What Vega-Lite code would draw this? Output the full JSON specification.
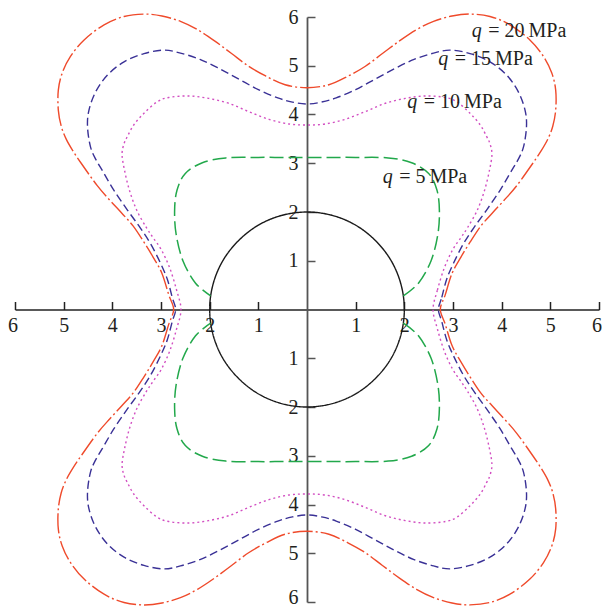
{
  "$schema": "https://vega.github.io/schema/vega-lite/v6.json",
  "width": 584,
  "height": 585,
  "autosize": {"type": "none"},
  "padding": {"left": 15, "top": 17, "right": 3, "bottom": 5},
  "background": "white",
  "config": {"view": {"stroke": null}, "font": "Liberation Serif"},
  "datasets": {
    "closed": [
      {"c":"circle","x":2,"y":0},{"c":"circle","x":1.93,"y":0.52},{"c":"circle","x":1.73,"y":1.0},{"c":"circle","x":1.41,"y":1.41},{"c":"circle","x":1.0,"y":1.73},{"c":"circle","x":0.52,"y":1.93},
      {"c":"circle","x":0,"y":2},{"c":"circle","x":-0.52,"y":1.93},{"c":"circle","x":-1.0,"y":1.73},{"c":"circle","x":-1.41,"y":1.41},{"c":"circle","x":-1.73,"y":1.0},{"c":"circle","x":-1.93,"y":0.52},
      {"c":"circle","x":-2,"y":0},{"c":"circle","x":-1.93,"y":-0.52},{"c":"circle","x":-1.73,"y":-1.0},{"c":"circle","x":-1.41,"y":-1.41},{"c":"circle","x":-1.0,"y":-1.73},{"c":"circle","x":-0.52,"y":-1.93},
      {"c":"circle","x":0,"y":-2},{"c":"circle","x":0.52,"y":-1.93},{"c":"circle","x":1.0,"y":-1.73},{"c":"circle","x":1.41,"y":-1.41},{"c":"circle","x":1.73,"y":-1.0},{"c":"circle","x":1.93,"y":-0.52},

      {"c":"q20","x":2.74,"y":0},{"c":"q20","x":2.84,"y":0.30},{"c":"q20","x":2.98,"y":0.74},{"c":"q20","x":3.16,"y":1.07},{"c":"q20","x":3.35,"y":1.38},{"c":"q20","x":3.57,"y":1.71},
      {"c":"q20","x":3.80,"y":1.97},{"c":"q20","x":4.05,"y":2.24},{"c":"q20","x":4.31,"y":2.54},{"c":"q20","x":4.64,"y":3.00},{"c":"q20","x":4.82,"y":3.27},{"c":"q20","x":4.95,"y":3.50},
      {"c":"q20","x":5.05,"y":3.76},{"c":"q20","x":5.11,"y":4.09},{"c":"q20","x":5.11,"y":4.50},{"c":"q20","x":5.03,"y":4.85},{"c":"q20","x":4.86,"y":5.19},{"c":"q20","x":4.58,"y":5.53},
      {"c":"q20","x":4.17,"y":5.84},{"c":"q20","x":3.76,"y":6.01},{"c":"q20","x":3.35,"y":6.06},{"c":"q20","x":2.98,"y":6.02},{"c":"q20","x":2.60,"y":5.91},{"c":"q20","x":2.25,"y":5.74},
      {"c":"q20","x":1.90,"y":5.51},{"c":"q20","x":1.55,"y":5.25},{"c":"q20","x":1.20,"y":4.99},{"c":"q20","x":0.85,"y":4.79},{"c":"q20","x":0.45,"y":4.61},{"c":"q20","x":0,"y":4.55},
      {"c":"q20","x":-0.45,"y":4.61},{"c":"q20","x":-0.85,"y":4.79},{"c":"q20","x":-1.20,"y":4.99},{"c":"q20","x":-1.55,"y":5.25},{"c":"q20","x":-1.90,"y":5.51},{"c":"q20","x":-2.25,"y":5.74},
      {"c":"q20","x":-2.60,"y":5.91},{"c":"q20","x":-2.98,"y":6.02},{"c":"q20","x":-3.35,"y":6.06},{"c":"q20","x":-3.76,"y":6.01},{"c":"q20","x":-4.17,"y":5.84},{"c":"q20","x":-4.58,"y":5.53},
      {"c":"q20","x":-4.86,"y":5.19},{"c":"q20","x":-5.03,"y":4.85},{"c":"q20","x":-5.11,"y":4.50},{"c":"q20","x":-5.11,"y":4.09},{"c":"q20","x":-5.05,"y":3.76},{"c":"q20","x":-4.95,"y":3.50},
      {"c":"q20","x":-4.82,"y":3.27},{"c":"q20","x":-4.64,"y":3.00},{"c":"q20","x":-4.31,"y":2.54},{"c":"q20","x":-4.05,"y":2.24},{"c":"q20","x":-3.80,"y":1.97},{"c":"q20","x":-3.57,"y":1.71},
      {"c":"q20","x":-3.35,"y":1.38},{"c":"q20","x":-3.16,"y":1.07},{"c":"q20","x":-2.98,"y":0.74},{"c":"q20","x":-2.84,"y":0.30},{"c":"q20","x":-2.74,"y":0},
      {"c":"q20","x":-2.84,"y":-0.30},{"c":"q20","x":-2.98,"y":-0.74},{"c":"q20","x":-3.16,"y":-1.07},{"c":"q20","x":-3.35,"y":-1.38},{"c":"q20","x":-3.57,"y":-1.71},{"c":"q20","x":-3.80,"y":-1.97},
      {"c":"q20","x":-4.05,"y":-2.24},{"c":"q20","x":-4.31,"y":-2.54},{"c":"q20","x":-4.64,"y":-3.00},{"c":"q20","x":-4.82,"y":-3.27},{"c":"q20","x":-4.95,"y":-3.50},{"c":"q20","x":-5.05,"y":-3.76},
      {"c":"q20","x":-5.11,"y":-4.09},{"c":"q20","x":-5.11,"y":-4.50},{"c":"q20","x":-5.03,"y":-4.85},{"c":"q20","x":-4.86,"y":-5.19},{"c":"q20","x":-4.58,"y":-5.53},{"c":"q20","x":-4.17,"y":-5.84},
      {"c":"q20","x":-3.76,"y":-6.01},{"c":"q20","x":-3.35,"y":-6.06},{"c":"q20","x":-2.98,"y":-6.02},{"c":"q20","x":-2.60,"y":-5.91},{"c":"q20","x":-2.25,"y":-5.74},{"c":"q20","x":-1.90,"y":-5.51},
      {"c":"q20","x":-1.55,"y":-5.25},{"c":"q20","x":-1.20,"y":-4.99},{"c":"q20","x":-0.85,"y":-4.79},{"c":"q20","x":-0.45,"y":-4.61},{"c":"q20","x":0,"y":-4.55},
      {"c":"q20","x":0.45,"y":-4.61},{"c":"q20","x":0.85,"y":-4.79},{"c":"q20","x":1.20,"y":-4.99},{"c":"q20","x":1.55,"y":-5.25},{"c":"q20","x":1.90,"y":-5.51},{"c":"q20","x":2.25,"y":-5.74},
      {"c":"q20","x":2.60,"y":-5.91},{"c":"q20","x":2.98,"y":-6.02},{"c":"q20","x":3.35,"y":-6.06},{"c":"q20","x":3.76,"y":-6.01},{"c":"q20","x":4.17,"y":-5.84},{"c":"q20","x":4.58,"y":-5.53},
      {"c":"q20","x":4.86,"y":-5.19},{"c":"q20","x":5.03,"y":-4.85},{"c":"q20","x":5.11,"y":-4.50},{"c":"q20","x":5.11,"y":-4.09},{"c":"q20","x":5.05,"y":-3.76},{"c":"q20","x":4.95,"y":-3.50},
      {"c":"q20","x":4.82,"y":-3.27},{"c":"q20","x":4.64,"y":-3.00},{"c":"q20","x":4.31,"y":-2.54},{"c":"q20","x":4.05,"y":-2.24},{"c":"q20","x":3.80,"y":-1.97},{"c":"q20","x":3.57,"y":-1.71},
      {"c":"q20","x":3.35,"y":-1.38},{"c":"q20","x":3.16,"y":-1.07},{"c":"q20","x":2.98,"y":-0.74},{"c":"q20","x":2.84,"y":-0.30},

      {"c":"q15","x":2.70,"y":0},{"c":"q15","x":2.77,"y":0.25},{"c":"q15","x":2.87,"y":0.62},{"c":"q15","x":3.01,"y":0.95},{"c":"q15","x":3.21,"y":1.34},{"c":"q15","x":3.43,"y":1.68},
      {"c":"q15","x":3.69,"y":2.04},{"c":"q15","x":3.97,"y":2.45},{"c":"q15","x":4.21,"y":2.86},{"c":"q15","x":4.34,"y":3.08},{"c":"q15","x":4.45,"y":3.34},{"c":"q15","x":4.51,"y":3.75},
      {"c":"q15","x":4.48,"y":4.09},{"c":"q15","x":4.34,"y":4.47},{"c":"q15","x":4.10,"y":4.81},{"c":"q15","x":3.76,"y":5.08},{"c":"q15","x":3.35,"y":5.25},{"c":"q15","x":2.94,"y":5.32},
      {"c":"q15","x":2.60,"y":5.26},{"c":"q15","x":2.20,"y":5.13},{"c":"q15","x":1.80,"y":4.94},{"c":"q15","x":1.40,"y":4.725},{"c":"q15","x":1.00,"y":4.51},{"c":"q15","x":0.60,"y":4.34},
      {"c":"q15","x":0.30,"y":4.255},{"c":"q15","x":0,"y":4.215},
      {"c":"q15","x":-0.30,"y":4.255},{"c":"q15","x":-0.60,"y":4.34},{"c":"q15","x":-1.00,"y":4.51},{"c":"q15","x":-1.40,"y":4.725},{"c":"q15","x":-1.80,"y":4.94},{"c":"q15","x":-2.20,"y":5.13},
      {"c":"q15","x":-2.60,"y":5.26},{"c":"q15","x":-2.94,"y":5.32},{"c":"q15","x":-3.35,"y":5.25},{"c":"q15","x":-3.76,"y":5.08},{"c":"q15","x":-4.10,"y":4.81},{"c":"q15","x":-4.34,"y":4.47},
      {"c":"q15","x":-4.48,"y":4.09},{"c":"q15","x":-4.51,"y":3.75},{"c":"q15","x":-4.45,"y":3.34},{"c":"q15","x":-4.34,"y":3.08},{"c":"q15","x":-4.21,"y":2.86},{"c":"q15","x":-3.97,"y":2.45},
      {"c":"q15","x":-3.69,"y":2.04},{"c":"q15","x":-3.43,"y":1.68},{"c":"q15","x":-3.21,"y":1.34},{"c":"q15","x":-3.01,"y":0.95},{"c":"q15","x":-2.87,"y":0.62},{"c":"q15","x":-2.77,"y":0.25},
      {"c":"q15","x":-2.70,"y":0},
      {"c":"q15","x":-2.77,"y":-0.25},{"c":"q15","x":-2.87,"y":-0.62},{"c":"q15","x":-3.01,"y":-0.95},{"c":"q15","x":-3.21,"y":-1.34},{"c":"q15","x":-3.43,"y":-1.68},{"c":"q15","x":-3.69,"y":-2.04},
      {"c":"q15","x":-3.97,"y":-2.45},{"c":"q15","x":-4.21,"y":-2.86},{"c":"q15","x":-4.34,"y":-3.08},{"c":"q15","x":-4.45,"y":-3.34},{"c":"q15","x":-4.51,"y":-3.75},{"c":"q15","x":-4.48,"y":-4.09},
      {"c":"q15","x":-4.34,"y":-4.47},{"c":"q15","x":-4.10,"y":-4.81},{"c":"q15","x":-3.76,"y":-5.08},{"c":"q15","x":-3.35,"y":-5.25},{"c":"q15","x":-2.94,"y":-5.32},{"c":"q15","x":-2.60,"y":-5.26},
      {"c":"q15","x":-2.20,"y":-5.13},{"c":"q15","x":-1.80,"y":-4.94},{"c":"q15","x":-1.40,"y":-4.725},{"c":"q15","x":-1.00,"y":-4.51},{"c":"q15","x":-0.60,"y":-4.34},{"c":"q15","x":-0.30,"y":-4.255},
      {"c":"q15","x":0,"y":-4.215},
      {"c":"q15","x":0.30,"y":-4.255},{"c":"q15","x":0.60,"y":-4.34},{"c":"q15","x":1.00,"y":-4.51},{"c":"q15","x":1.40,"y":-4.725},{"c":"q15","x":1.80,"y":-4.94},{"c":"q15","x":2.20,"y":-5.13},
      {"c":"q15","x":2.60,"y":-5.26},{"c":"q15","x":2.94,"y":-5.32},{"c":"q15","x":3.35,"y":-5.25},{"c":"q15","x":3.76,"y":-5.08},{"c":"q15","x":4.10,"y":-4.81},{"c":"q15","x":4.34,"y":-4.47},
      {"c":"q15","x":4.48,"y":-4.09},{"c":"q15","x":4.51,"y":-3.75},{"c":"q15","x":4.45,"y":-3.34},{"c":"q15","x":4.34,"y":-3.08},{"c":"q15","x":4.21,"y":-2.86},{"c":"q15","x":3.97,"y":-2.45},
      {"c":"q15","x":3.69,"y":-2.04},{"c":"q15","x":3.43,"y":-1.68},{"c":"q15","x":3.21,"y":-1.34},{"c":"q15","x":3.01,"y":-0.95},{"c":"q15","x":2.87,"y":-0.62},{"c":"q15","x":2.77,"y":-0.25},

      {"c":"q10","x":2.59,"y":0},{"c":"q10","x":2.68,"y":0.40},{"c":"q10","x":2.82,"y":0.85},{"c":"q10","x":2.99,"y":1.22},{"c":"q10","x":3.16,"y":1.47},{"c":"q10","x":3.30,"y":1.68},
      {"c":"q10","x":3.50,"y":2.04},{"c":"q10","x":3.65,"y":2.45},{"c":"q10","x":3.75,"y":2.86},{"c":"q10","x":3.80,"y":3.18},{"c":"q10","x":3.76,"y":3.40},{"c":"q10","x":3.69,"y":3.55},
      {"c":"q10","x":3.56,"y":3.785},{"c":"q10","x":3.35,"y":4.025},{"c":"q10","x":3.08,"y":4.26},{"c":"q10","x":2.84,"y":4.35},{"c":"q10","x":2.43,"y":4.38},{"c":"q10","x":2.02,"y":4.33},
      {"c":"q10","x":1.61,"y":4.23},{"c":"q10","x":1.20,"y":4.06},{"c":"q10","x":0.78,"y":3.90},{"c":"q10","x":0.37,"y":3.805},{"c":"q10","x":0,"y":3.785},
      {"c":"q10","x":-0.37,"y":3.805},{"c":"q10","x":-0.78,"y":3.90},{"c":"q10","x":-1.20,"y":4.06},{"c":"q10","x":-1.61,"y":4.23},{"c":"q10","x":-2.02,"y":4.33},{"c":"q10","x":-2.43,"y":4.38},
      {"c":"q10","x":-2.84,"y":4.35},{"c":"q10","x":-3.08,"y":4.26},{"c":"q10","x":-3.35,"y":4.025},{"c":"q10","x":-3.56,"y":3.785},{"c":"q10","x":-3.69,"y":3.55},{"c":"q10","x":-3.76,"y":3.40},
      {"c":"q10","x":-3.80,"y":3.18},{"c":"q10","x":-3.75,"y":2.86},{"c":"q10","x":-3.65,"y":2.45},{"c":"q10","x":-3.50,"y":2.04},{"c":"q10","x":-3.30,"y":1.68},{"c":"q10","x":-3.16,"y":1.47},
      {"c":"q10","x":-2.99,"y":1.22},{"c":"q10","x":-2.82,"y":0.85},{"c":"q10","x":-2.68,"y":0.40},{"c":"q10","x":-2.59,"y":0},
      {"c":"q10","x":-2.68,"y":-0.40},{"c":"q10","x":-2.82,"y":-0.85},{"c":"q10","x":-2.99,"y":-1.22},{"c":"q10","x":-3.16,"y":-1.47},{"c":"q10","x":-3.30,"y":-1.68},{"c":"q10","x":-3.50,"y":-2.04},
      {"c":"q10","x":-3.65,"y":-2.45},{"c":"q10","x":-3.75,"y":-2.86},{"c":"q10","x":-3.80,"y":-3.18},{"c":"q10","x":-3.76,"y":-3.40},{"c":"q10","x":-3.69,"y":-3.55},{"c":"q10","x":-3.56,"y":-3.785},
      {"c":"q10","x":-3.35,"y":-4.025},{"c":"q10","x":-3.08,"y":-4.26},{"c":"q10","x":-2.84,"y":-4.35},{"c":"q10","x":-2.43,"y":-4.38},{"c":"q10","x":-2.02,"y":-4.33},{"c":"q10","x":-1.61,"y":-4.23},
      {"c":"q10","x":-1.20,"y":-4.06},{"c":"q10","x":-0.78,"y":-3.90},{"c":"q10","x":-0.37,"y":-3.805},{"c":"q10","x":0,"y":-3.785},
      {"c":"q10","x":0.37,"y":-3.805},{"c":"q10","x":0.78,"y":-3.90},{"c":"q10","x":1.20,"y":-4.06},{"c":"q10","x":1.61,"y":-4.23},{"c":"q10","x":2.02,"y":-4.33},{"c":"q10","x":2.43,"y":-4.38},
      {"c":"q10","x":2.84,"y":-4.35},{"c":"q10","x":3.08,"y":-4.26},{"c":"q10","x":3.35,"y":-4.025},{"c":"q10","x":3.56,"y":-3.785},{"c":"q10","x":3.69,"y":-3.55},{"c":"q10","x":3.76,"y":-3.40},
      {"c":"q10","x":3.80,"y":-3.18},{"c":"q10","x":3.75,"y":-2.86},{"c":"q10","x":3.65,"y":-2.45},{"c":"q10","x":3.50,"y":-2.04},{"c":"q10","x":3.30,"y":-1.68},{"c":"q10","x":3.16,"y":-1.47},
      {"c":"q10","x":2.99,"y":-1.22},{"c":"q10","x":2.82,"y":-0.85},{"c":"q10","x":2.68,"y":-0.40}
    ],
    "q5": [
      {"part":"upper","x":1.98,"y":0.28},{"part":"upper","x":2.29,"y":0.54},{"part":"upper","x":2.55,"y":1.0},{"part":"upper","x":2.69,"y":1.55},{"part":"upper","x":2.72,"y":2.04},
      {"part":"upper","x":2.67,"y":2.45},{"part":"upper","x":2.50,"y":2.79},{"part":"upper","x":2.15,"y":3.01},{"part":"upper","x":1.67,"y":3.11},{"part":"upper","x":1.0,"y":3.12},
      {"part":"upper","x":0.5,"y":3.12},{"part":"upper","x":0,"y":3.12},{"part":"upper","x":-0.5,"y":3.12},{"part":"upper","x":-1.0,"y":3.12},{"part":"upper","x":-1.67,"y":3.11},
      {"part":"upper","x":-2.15,"y":3.01},{"part":"upper","x":-2.50,"y":2.79},{"part":"upper","x":-2.67,"y":2.45},{"part":"upper","x":-2.72,"y":2.04},{"part":"upper","x":-2.69,"y":1.55},
      {"part":"upper","x":-2.55,"y":1.0},{"part":"upper","x":-2.29,"y":0.54},{"part":"upper","x":-1.98,"y":0.28},
      {"part":"lower","x":1.98,"y":-0.28},{"part":"lower","x":2.29,"y":-0.54},{"part":"lower","x":2.55,"y":-1.0},{"part":"lower","x":2.69,"y":-1.55},{"part":"lower","x":2.72,"y":-2.04},
      {"part":"lower","x":2.67,"y":-2.45},{"part":"lower","x":2.50,"y":-2.79},{"part":"lower","x":2.15,"y":-3.01},{"part":"lower","x":1.67,"y":-3.11},{"part":"lower","x":1.0,"y":-3.12},
      {"part":"lower","x":0.5,"y":-3.12},{"part":"lower","x":0,"y":-3.12},{"part":"lower","x":-0.5,"y":-3.12},{"part":"lower","x":-1.0,"y":-3.12},{"part":"lower","x":-1.67,"y":-3.11},
      {"part":"lower","x":-2.15,"y":-3.01},{"part":"lower","x":-2.50,"y":-2.79},{"part":"lower","x":-2.67,"y":-2.45},{"part":"lower","x":-2.72,"y":-2.04},{"part":"lower","x":-2.69,"y":-1.55},
      {"part":"lower","x":-2.55,"y":-1.0},{"part":"lower","x":-2.29,"y":-0.54},{"part":"lower","x":-1.98,"y":-0.28}
    ],
    "labels": [
      {"lab":"= 20\u2009MPa","x":3.384,"y":5.596},
      {"lab":"= 15\u2009MPa","x":2.698,"y":5.015},
      {"lab":"= 10\u2009MPa","x":2.061,"y":4.127},
      {"lab":"= 5\u2009MPa","x":1.555,"y":2.589}
    ]
  },
  "resolve": {"axis": {"x": "independent", "y": "independent"}},
  "layer": [
    {
      "data": {"name": "closed"},
      "mark": {"type": "line", "interpolate": "cardinal-closed", "strokeWidth": 1.4, "clip": false},
      "encoding": {
        "x": {
          "field": "x", "type": "quantitative",
          "scale": {"domain": [-6, 6], "nice": false, "zero": false},
          "axis": {
            "orient": "top", "offset": -292.5, "title": null, "grid": false, "labels": false,
            "values": [-6, -5, -4, -3, -2, -1, 1, 2, 3, 4, 5, 6],
            "tickSize": 8, "tickWidth": 1.5, "tickColor": "#222",
            "domainColor": "#222", "domainWidth": 1.5
          }
        },
        "y": {
          "field": "y", "type": "quantitative",
          "scale": {"domain": [-6, 6], "nice": false, "zero": false},
          "axis": {
            "orient": "right", "offset": -292, "title": null, "grid": false, "labels": false,
            "values": [-6, -5, -4, -3, -2, -1, 1, 2, 3, 4, 5, 6],
            "tickSize": 8, "tickWidth": 1.5, "tickColor": "#555",
            "domainColor": "#555", "domainWidth": 1.8
          }
        },
        "color": {
          "field": "c", "type": "nominal", "legend": null,
          "scale": {"domain": ["circle", "q10", "q15", "q20"], "range": ["#1a1a1a", "#d24fc2", "#3a3196", "#ef4a2b"]}
        },
        "strokeDash": {
          "field": "c", "type": "nominal", "legend": null,
          "scale": {"domain": ["circle", "q10", "q15", "q20"], "range": [[1, 0], [2, 3], [8, 4], [20, 3, 2, 3]]}
        },
        "order": {"value": null}
      }
    },
    {
      "data": {"name": "q5"},
      "mark": {"type": "line", "interpolate": "cardinal", "strokeWidth": 1.5, "color": "#22a84b", "strokeDash": [14, 5], "clip": false},
      "encoding": {
        "x": {
          "field": "x", "type": "quantitative",
          "axis": {
            "orient": "bottom", "offset": -292.5, "title": null, "grid": false, "ticks": false, "domain": false,
            "values": [-6, -5, -4, -3, -2, -1, 1, 2, 3, 4, 5, 6],
            "labelExpr": "abs(datum.value)", "labelFont": "Liberation Serif", "labelFontSize": 20,
            "labelColor": "#231f20", "labelPadding": 6, "labelFlush": false, "labelOverlap": false,
            "labelOffset": {"condition": {"test": "abs(datum.value) == 6", "value": -2.5}, "value": 0}
          }
        },
        "y": {
          "field": "y", "type": "quantitative",
          "axis": {
            "orient": "left", "offset": -292, "title": null, "grid": false, "ticks": false, "domain": false,
            "values": [-6, -5, -4, -3, -2, -1, 1, 2, 3, 4, 5, 6],
            "labelExpr": "abs(datum.value)", "labelFont": "Liberation Serif", "labelFontSize": 20,
            "labelColor": "#231f20", "labelPadding": 9, "labelFlush": false, "labelOverlap": false,
            "labelOffset": {"condition": {"test": "datum.value == -6", "value": -5}, "value": 0}
          }
        },
        "detail": {"field": "part", "type": "nominal"},
        "order": {"value": null}
      }
    },
    {
      "data": {"name": "labels"},
      "mark": {"type": "text", "align": "left", "baseline": "alphabetic", "font": "Liberation Serif", "fontSize": 20, "fontStyle": "italic", "color": "#231f20"},
      "encoding": {
        "x": {"field": "x", "type": "quantitative", "axis": null},
        "y": {"field": "y", "type": "quantitative", "axis": null},
        "text": {"value": "q"}
      }
    },
    {
      "data": {"name": "labels"},
      "mark": {"type": "text", "align": "left", "baseline": "alphabetic", "font": "Liberation Serif", "fontSize": 20, "dx": 16.5, "color": "#231f20"},
      "encoding": {
        "x": {"field": "x", "type": "quantitative", "axis": null},
        "y": {"field": "y", "type": "quantitative", "axis": null},
        "text": {"field": "lab"}
      }
    }
  ]
}
